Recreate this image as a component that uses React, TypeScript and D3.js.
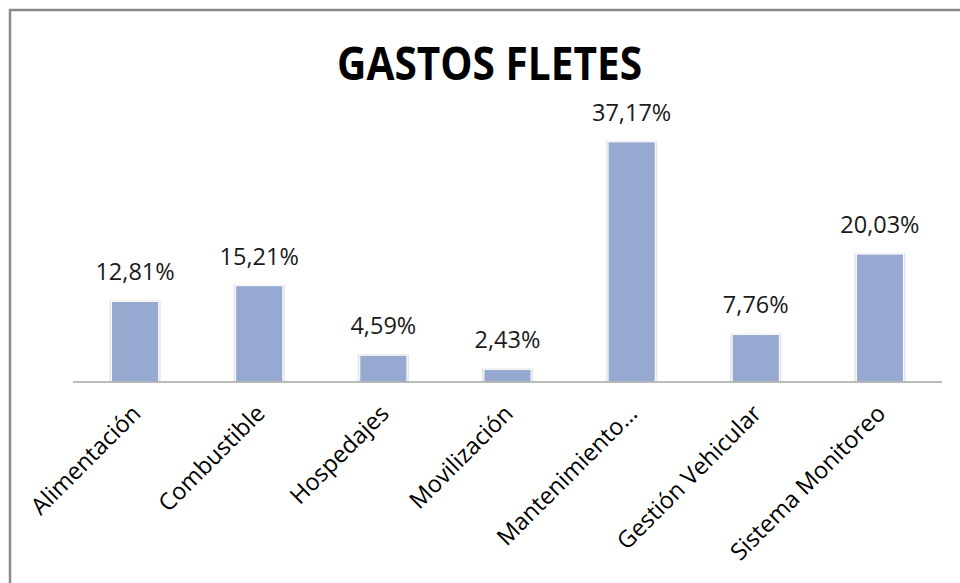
import React, { useEffect, useRef } from "react";
import * as d3 from "d3";

const title = "GASTOS FLETES";
const categories = [
  "Alimentación",
  "Combustible",
  "Hospedajes",
  "Movilización",
  "Mantenimiento…",
  "Gestión Vehicular",
  "Sistema Monitoreo",
];
const values = [12.81, 15.21, 4.59, 2.43, 37.17, 7.76, 20.03];
const valueLabels = ["12,81%", "15,21%", "4,59%", "2,43%", "37,17%", "7,76%", "20,03%"];

const W = 960;
const H = 583;

export default function App() {
  const ref = useRef<SVGSVGElement>(null);

  useEffect(() => {
    const svg = d3.select(ref.current);
    svg.selectAll("*").remove();

    const font = "'Open Sans', 'DejaVu Sans', sans-serif";
    const axisY = 382;

    svg.append("rect").attr("x", 0).attr("y", 0).attr("width", W).attr("height", H).attr("fill", "#fff");
    svg
      .append("path")
      .attr("d", `M10,${H} L10,10 L${W},10`)
      .attr("fill", "none")
      .attr("stroke", "#8a8a8a")
      .attr("stroke-width", 2.5);

    svg
      .append("text")
      .attr("x", 489.5)
      .attr("y", 80)
      .attr("text-anchor", "middle")
      .attr("font-family", font)
      .attr("font-weight", 700)
      .attr("font-size", 47)
      .attr("textLength", 305)
      .attr("lengthAdjust", "spacingAndGlyphs")
      .attr("fill", "#000")
      .text(title);

    const x = d3
      .scaleBand<string>()
      .domain(categories)
      .range([73, 942])
      .paddingInner(0.62)
      .paddingOuter(0.31);

    const y = d3.scaleLinear().domain([0.5, 40]).range([axisY, 123.3]);

    const data = categories.map((c, i) => ({ c, v: values[i], label: valueLabels[i] }));

    svg
      .append("g")
      .selectAll("rect")
      .data(data)
      .join("rect")
      .attr("x", (d) => (x(d.c) as number) - 2)
      .attr("y", (d) => y(d.v) - 1)
      .attr("width", x.bandwidth() + 4)
      .attr("height", (d) => axisY - y(d.v) + 1)
      .attr("fill", "#e4e4e4");

    svg
      .append("g")
      .selectAll("rect")
      .data(data)
      .join("rect")
      .attr("x", (d) => x(d.c) as number)
      .attr("y", (d) => y(d.v))
      .attr("width", x.bandwidth())
      .attr("height", (d) => axisY - y(d.v))
      .attr("fill", "#95a9d1")
      .attr("stroke", "#ffffff")
      .attr("stroke-width", 1);

    svg
      .append("line")
      .attr("x1", 73)
      .attr("x2", 942)
      .attr("y1", axisY)
      .attr("y2", axisY)
      .attr("stroke", "#a6a6a6")
      .attr("stroke-width", 1.5);

    svg
      .append("g")
      .selectAll("text")
      .data(data)
      .join("text")
      .attr("x", (d) => (x(d.c) as number) + x.bandwidth() / 2)
      .attr("y", (d) => y(d.v) - 21)
      .attr("text-anchor", "middle")
      .attr("font-family", font)
      .attr("font-size", 23.5)
      .attr("fill", "#1a1a1a")
      .text((d) => d.label);

    svg
      .append("g")
      .selectAll("text")
      .data(data)
      .join("text")
      .attr("transform", (d) => {
        const cx = (x(d.c) as number) + x.bandwidth() / 2;
        return `translate(${cx + 7},${axisY + 33}) rotate(-45)`;
      })
      .attr("text-anchor", "end")
      .attr("font-family", font)
      .attr("font-size", 23.5)
      .attr("fill", "#000")
      .text((d) => d.c);
  }, []);

  return (
    <div style={{ position: "absolute", left: 0, top: 0 }}>
      <svg ref={ref} width={W} height={H} style={{ display: "block" }} />
    </div>
  );
}
